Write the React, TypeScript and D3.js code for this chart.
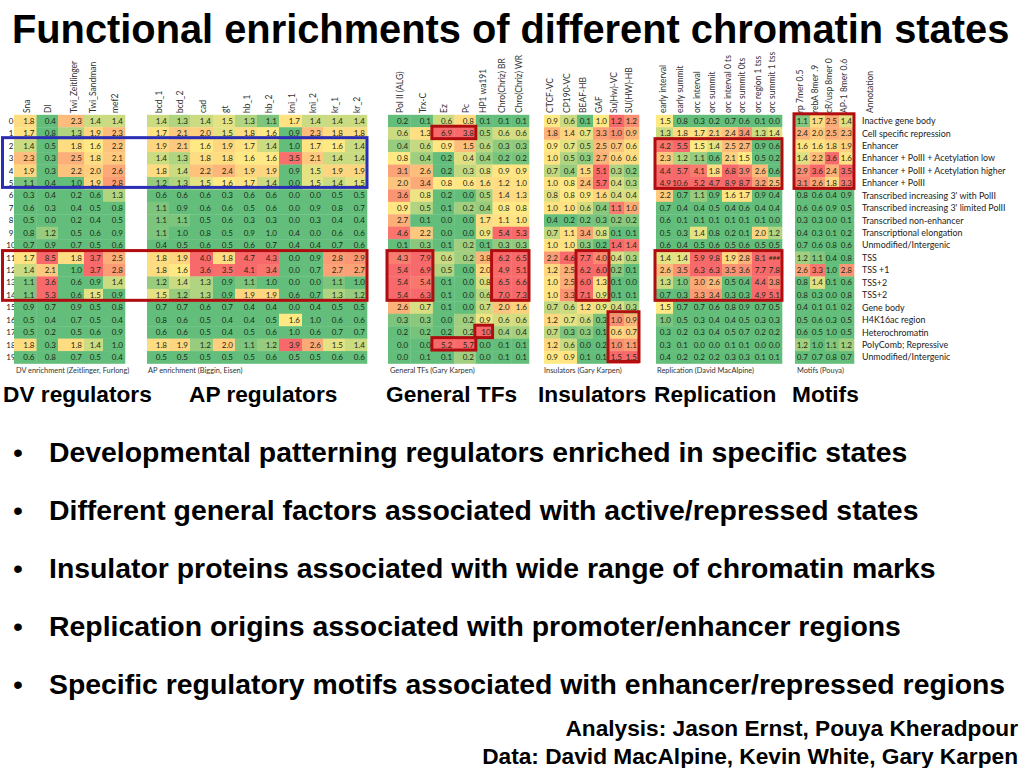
import React from 'react';
import * as d3 from 'd3';

const width = 1024;
const height = 768;

const rowIds = d3.range(20).map(String);

const annotations = [
  'Inactive gene body',
  'Cell specific repression',
  'Enhancer',
  'Enhancer + PolII + Acetylation low',
  'Enhancer + PolII + Acetylation higher',
  'Enhancer + PolII',
  "Transcribed increasing 3' with PolII",
  "Transcribed increasing 3' limited PolII",
  'Transcribed non-enhancer',
  'Transcriptional elongation',
  'Unmodified/Intergenic',
  'TSS',
  'TSS +1',
  'TSS+2',
  'TSS+2',
  'Gene body',
  'H4K16ac region',
  'Heterochromatin',
  'PolyComb; Repressive',
  'Unmodified/Intergenic',
];

const dvCols = ['Sna', 'Dl', 'Twi_Zeitlinger', 'Twi_Sandman', 'mef2'];
const dvValues = [
  [1.8, 0.4, 2.3, 1.4, 1.4],
  [1.7, 0.8, 1.3, 1.9, 2.3],
  [1.4, 0.5, 1.8, 1.6, 2.2],
  [2.3, 0.3, 2.5, 1.8, 2.1],
  [1.9, 0.3, 2.2, 2.0, 2.6],
  [1.1, 0.4, 1.0, 1.9, 2.8],
  [0.3, 0.4, 0.2, 0.6, 1.3],
  [0.6, 0.3, 0.4, 0.5, 0.8],
  [0.5, 0.0, 0.2, 0.4, 0.5],
  [0.8, 1.2, 0.5, 0.6, 0.9],
  [0.7, 0.9, 0.7, 0.5, 0.6],
  [1.7, 8.5, 1.8, 3.7, 2.5],
  [1.4, 2.1, 1.0, 3.7, 2.8],
  [1.1, 3.6, 0.6, 0.9, 1.4],
  [1.1, 5.3, 0.6, 1.5, 0.9],
  [0.9, 0.7, 0.9, 0.5, 0.8],
  [0.5, 0.4, 0.7, 0.5, 0.4],
  [0.5, 0.2, 0.5, 0.6, 0.9],
  [1.8, 0.3, 1.8, 1.4, 1.0],
  [0.6, 0.8, 0.7, 0.5, 0.4],
];

const apCols = ['bcd_1', 'bcd_2', 'cad', 'gt', 'hb_1', 'hb_2', 'kni_1', 'kni_2', 'kr_1', 'kr_2'];
const apValues = [
  [1.4, 1.3, 1.4, 1.5, 1.3, 1.1, 1.7, 1.4, 1.4, 1.4],
  [1.7, 2.1, 2.0, 1.5, 1.8, 1.6, 0.9, 2.3, 1.8, 1.8],
  [1.9, 2.1, 1.6, 1.9, 1.7, 1.4, 1.0, 1.7, 1.6, 1.4],
  [1.4, 1.3, 1.8, 1.8, 1.6, 1.6, 3.5, 2.1, 1.4, 1.4],
  [1.8, 1.4, 2.2, 2.4, 1.9, 1.9, 0.9, 1.5, 1.9, 1.9],
  [1.2, 1.3, 1.5, 1.6, 1.7, 1.4, 0.0, 1.5, 1.4, 1.5],
  [0.6, 0.6, 0.6, 0.3, 0.6, 0.6, 0.0, 0.0, 0.5, 0.5],
  [1.1, 0.9, 0.6, 0.6, 0.5, 0.6, 0.0, 0.9, 0.8, 0.7],
  [1.1, 1.1, 0.5, 0.6, 0.3, 0.3, 0.0, 0.3, 0.4, 0.4],
  [1.1, 1.0, 0.8, 0.5, 0.9, 1.0, 0.4, 0.0, 0.6, 0.6],
  [0.4, 0.5, 0.6, 0.5, 0.6, 0.7, 0.4, 0.4, 0.7, 0.6],
  [1.8, 1.9, 4.0, 1.8, 4.7, 4.3, 0.0, 0.9, 2.8, 2.9],
  [1.8, 1.6, 3.6, 3.5, 4.1, 3.4, 0.0, 0.7, 2.7, 2.7],
  [1.2, 1.4, 1.3, 0.9, 1.1, 1.0, 0.0, 0.0, 1.1, 1.0],
  [1.5, 1.2, 1.3, 0.9, 1.9, 1.9, 0.6, 0.7, 1.3, 1.2],
  [0.7, 0.7, 0.6, 0.7, 0.4, 0.4, 0.0, 0.4, 0.5, 0.5],
  [0.8, 0.6, 0.5, 0.4, 0.4, 0.5, 1.6, 1.0, 0.6, 0.6],
  [0.6, 0.6, 0.5, 0.4, 0.5, 0.6, 1.0, 0.6, 0.7, 0.7],
  [1.8, 1.9, 1.2, 2.0, 1.1, 1.2, 3.9, 2.6, 1.5, 1.4],
  [0.5, 0.5, 0.5, 0.5, 0.5, 0.6, 0.5, 0.5, 0.6, 0.6],
];

const tfCols = ['Pol II (ALG)', 'Trx-C', 'Ez', 'Pc', 'HP1 wa191', 'Chro(Chriz) BR', 'Chro(Chriz) WR'];
const tfValues = [
  [0.2, 0.1, 0.6, 0.8, 0.1, 0.1, 0.1],
  [0.6, 1.3, 6.9, 3.8, 0.5, 0.6, 0.6],
  [0.4, 0.6, 0.9, 1.5, 0.6, 0.3, 0.3],
  [0.8, 0.4, 0.2, 0.4, 0.4, 0.2, 0.2],
  [3.1, 2.6, 0.2, 0.3, 0.8, 0.9, 0.9],
  [2.0, 3.4, 0.8, 0.6, 1.6, 1.2, 1.0],
  [3.6, 0.8, 0.2, 0.0, 0.5, 1.4, 1.3],
  [0.9, 0.5, 0.1, 0.2, 0.4, 0.8, 0.8],
  [2.7, 0.1, 0.0, 0.0, 1.7, 1.1, 1.0],
  [4.6, 2.2, 0.0, 0.0, 0.9, 5.4, 5.3],
  [0.1, 0.3, 0.1, 0.2, 0.1, 0.3, 0.3],
  [4.3, 7.9, 0.6, 0.2, 3.8, 6.2, 6.5],
  [5.4, 6.9, 0.5, 0.0, 2.0, 4.9, 5.1],
  [5.4, 5.4, 0.1, 0.0, 0.8, 6.5, 6.6],
  [5.4, 6.3, 0.1, 0.0, 0.6, 7.0, 7.3],
  [2.6, 0.7, 0.1, 0.0, 0.7, 2.0, 1.6],
  [0.3, 0.3, 0.0, 0.2, 0.9, 0.6, 0.6],
  [0.2, 0.2, 0.2, 0.2, 10, 0.4, 0.4],
  [0.0, 0.0, 5.2, 5.7, 0.0, 0.1, 0.1],
  [0.0, 0.1, 0.1, 0.2, 0.0, 0.1, 0.1],
];

const insCols = ['CTCF-VC', 'CP190-VC', 'BEAF-HB', 'GAF', 'Su(Hw)-VC', 'SU(HW)-HB'];
const insValues = [
  [0.9, 0.6, 0.1, 1.0, 1.2, 1.2],
  [1.8, 1.4, 0.7, 3.3, 1.0, 0.9],
  [0.9, 0.7, 0.5, 2.5, 0.7, 0.6],
  [1.0, 0.5, 0.3, 2.7, 0.6, 0.6],
  [0.7, 0.4, 1.5, 5.1, 0.3, 0.2],
  [1.0, 0.8, 2.4, 5.7, 0.4, 0.3],
  [0.8, 0.8, 0.9, 1.6, 0.4, 0.4],
  [1.0, 1.0, 0.6, 0.4, 1.1, 1.0],
  [0.4, 0.2, 0.2, 0.3, 0.2, 0.2],
  [0.7, 1.1, 3.4, 0.8, 0.1, 0.1],
  [1.0, 1.0, 0.3, 0.2, 1.4, 1.4],
  [2.2, 4.6, 7.7, 4.0, 0.4, 0.3],
  [1.2, 2.5, 6.2, 6.0, 0.2, 0.1],
  [1.0, 2.5, 6.0, 1.3, 0.1, 0.0],
  [1.0, 3.3, 7.1, 0.9, 0.1, 0.1],
  [0.7, 0.6, 1.2, 0.9, 0.4, 0.3],
  [1.2, 0.7, 0.6, 0.3, 1.0, 0.9],
  [0.7, 0.3, 0.3, 0.1, 0.6, 0.7],
  [1.2, 0.6, 0.0, 0.2, 1.0, 1.1],
  [0.9, 0.9, 0.1, 0.1, 1.5, 1.5],
];

const repCols = ['early interval', 'early summit', 'orc interval', 'orc summit', 'orc interval 0 ts', 'orc summit 0ts', 'orc region 1 tss', 'orc summit 1 tss'];
const repValues = [
  [1.5, 0.8, 0.3, 0.2, 0.7, 0.6, 0.1, 0.0],
  [1.3, 1.8, 1.7, 2.1, 2.4, 3.4, 1.3, 1.4],
  [4.2, 5.5, 1.5, 1.4, 2.5, 2.7, 0.9, 0.6],
  [2.3, 1.2, 1.1, 0.6, 2.1, 1.5, 0.5, 0.2],
  [4.4, 5.7, 4.1, 1.8, 6.8, 3.9, 2.6, 0.6],
  [4.9, 10.6, 5.2, 4.7, 8.9, 8.7, 3.2, 2.5],
  [2.2, 0.7, 1.1, 0.9, 1.6, 1.7, 0.9, 0.4],
  [0.7, 0.4, 0.4, 0.5, 0.4, 0.6, 0.4, 0.4],
  [0.6, 0.1, 0.1, 0.1, 0.1, 0.1, 0.1, 0.0],
  [0.5, 0.3, 1.4, 0.8, 0.2, 0.1, 2.0, 1.2],
  [0.6, 0.4, 0.5, 0.6, 0.5, 0.6, 0.5, 0.5],
  [1.4, 1.4, 5.9, 9.8, 1.9, 2.8, 8.1, 12],
  [2.6, 3.5, 6.3, 6.3, 3.5, 3.6, 7.7, 7.8],
  [1.3, 1.0, 3.0, 2.6, 0.5, 0.4, 4.4, 3.8],
  [0.7, 0.3, 3.3, 3.4, 0.3, 0.3, 4.9, 5.1],
  [1.5, 0.7, 0.7, 0.6, 0.8, 0.9, 0.7, 0.5],
  [1.0, 0.5, 0.3, 0.4, 0.4, 0.5, 0.3, 0.3],
  [0.3, 0.2, 0.3, 0.4, 0.5, 0.7, 0.2, 0.2],
  [0.3, 0.1, 0.0, 0.0, 0.1, 0.1, 0.0, 0.0],
  [0.4, 0.2, 0.2, 0.2, 0.3, 0.3, 0.1, 0.1],
];

const motifCols = ['rp 7mer 0.5', 'rebA 8mer .9', 'cR/usp 8mer 0', 'AP-1 8mer 0.6'];
const motifValues = [
  [1.1, 1.7, 2.5, 1.4],
  [2.4, 2.0, 2.5, 2.3],
  [1.6, 1.6, 1.8, 1.9],
  [1.4, 2.2, 3.6, 1.6],
  [2.9, 3.6, 2.4, 3.5],
  [3.1, 2.6, 1.8, 3.3],
  [0.8, 0.6, 0.4, 0.9],
  [0.6, 0.6, 0.9, 0.5],
  [0.3, 0.3, 0.0, 0.1],
  [0.4, 0.3, 0.1, 0.2],
  [0.7, 0.6, 0.8, 0.6],
  [1.2, 1.1, 0.4, 0.8],
  [2.6, 3.3, 1.0, 2.8],
  [0.8, 1.4, 0.1, 0.6],
  [0.8, 0.3, 0.0, 0.8],
  [0.4, 0.1, 0.1, 0.2],
  [0.5, 0.6, 0.3, 0.5],
  [0.6, 0.5, 1.0, 0.5],
  [1.2, 1.0, 1.1, 1.2],
  [0.7, 0.7, 0.8, 0.7],
];

const bullets = [
  'Developmental patterning regulators enriched in specific states',
  'Different general factors associated with active/repressed states',
  'Insulator proteins associated with wide range of chromatin marks',
  'Replication origins associated with promoter/enhancer regions',
  'Specific regulatory motifs associated with enhancer/repressed regions',
];

// x range, column widths and colour stops (green, yellow, red) for each block
const groups = [
  {
    id: 'dv', cols: dvCols, values: dvValues, x0: 14, x1: 125,
    weights: [22.5, 21.5, 26, 19, 22],
    stops: [[1, 1.6, 3.6]],
    source: 'DV enrichment (Zeitlinger, Furlong)', sourceX: 16,
    label: 'DV regulators', labelX: 3,
  },
  {
    id: 'ap', cols: apCols, values: apValues, x0: 147, x1: 367,
    weights: [22, 21, 23, 22, 22, 22, 23, 21, 22, 22],
    stops: [[1, 1.6, 3.6]],
    source: 'AP enrichment (Biggin, Eisen)', sourceX: 148,
    label: 'AP regulators', labelX: 189,
  },
  {
    id: 'tf', cols: tfCols, values: tfValues, x0: 388, x1: 529,
    weights: [22.3, 22.7, 21.3, 21.7, 16.8, 19, 17.5],
    stops: [[0.2, 0.8, 5], [0.1, 0.9, 6], [0.2, 0.8, 5], [0, 0.5, 3.5], [0.1, 1, 8], [0.1, 0.8, 5], [0.1, 0.8, 5]],
    source: 'General TFs (Gary Karpen)', sourceX: 390,
    label: 'General TFs', labelX: 386,
  },
  {
    id: 'ins', cols: insCols, values: insValues, x0: 544, x1: 639,
    weights: [16, 17, 16, 16, 15, 15],
    stops: [[0.4, 0.9, 3], [0.2, 0.8, 4.5], [0.1, 0.8, 5.5], [0.2, 1, 5], [0.1, 0.5, 1.2], [0.1, 0.5, 1.5]],
    source: 'Insulators (Gary Karpen)', sourceX: 544,
    label: 'Insulators', labelX: 538,
  },
  {
    id: 'rep', cols: repCols, values: repValues, x0: 656, x1: 782,
    weights: [17, 17, 17, 15, 16, 14, 16, 14],
    stops: [[0.9, 1.5, 4.5]],
    source: 'Replication (David MacAlpine)', sourceX: 657,
    label: 'Replication', labelX: 654,
  },
  {
    id: 'motif', cols: motifCols, values: motifValues, x0: 795, x1: 854,
    weights: [15, 15, 14, 15],
    stops: [[1, 1.5, 3.5]],
    source: 'Motifs (Pouya)', sourceX: 797,
    label: 'Motifs', labelX: 792,
  },
];

const blue = '#2b2db4';
const red = '#b00d10';

// highlighted blocks, given as first/last column and first/last row
const boxes = [
  { from: ['dv', 0], to: ['ap', 9], rows: [2, 5], color: blue, dy: -2, rowLabels: true },
  { from: ['dv', 0], to: ['ap', 9], rows: [11, 14], color: red, dy: -1, rowLabels: true },
  { from: ['tf', 2], to: ['tf', 3], rows: [1, 1], color: red, dy: -1 },
  { from: ['tf', 0], to: ['tf', 1], rows: [11, 14], color: red, dy: -1 },
  { from: ['tf', 5], to: ['tf', 6], rows: [11, 14], color: red, dy: -1 },
  { from: ['tf', 4], to: ['tf', 4], rows: [17, 17], color: red, dy: -1 },
  { from: ['tf', 2], to: ['tf', 3], rows: [18, 18], color: red, dy: -1 },
  { from: ['ins', 2], to: ['ins', 3], rows: [11, 14], color: red, dy: -1 },
  { from: ['ins', 4], to: ['ins', 5], rows: [16, 19], color: red, dy: -2 },
  { from: ['rep', 0], to: ['rep', 7], rows: [2, 5], color: red, dy: -1 },
  { from: ['rep', 0], to: ['rep', 7], rows: [11, 14], color: red, dy: -1 },
  { from: ['motif', 0], to: ['motif', 3], rows: [0, 5], color: red, dy: -1 },
];

const y = d3.scaleBand<string>().domain(rowIds).range([114.8, 363.5]);

const cellFont = 'Lato, sans-serif';
const slideFont = '"Liberation Sans", Arial, sans-serif';

// left edges of the columns of a block, last entry is the right edge
function columnEdges(g: (typeof groups)[number]) {
  const cum = [0, ...d3.cumsum(g.weights)];
  const sx = d3.scaleLinear().domain([0, cum[cum.length - 1]]).range([g.x0, g.x1]);
  return cum.map((c) => sx(c));
}

const edgesById = new Map(groups.map((g) => [g.id, columnEdges(g)]));

function fmt(v: number) {
  if (v >= 11) return '###';
  return v >= 10 && Number.isInteger(v) ? String(v) : v.toFixed(1);
}

function Block({ g }: { g: (typeof groups)[number] }) {
  const edges = edgesById.get(g.id)!;
  const colors = g.cols.map((_, i) => {
    const s = g.stops[g.stops.length > 1 ? i : 0];
    return d3.scaleLinear<string>().domain(s).range(['#63be7b', '#ffe984', '#f8696b']).clamp(true);
  });
  return (
    <g>
      {g.cols.map((c, i) => (
        <text
          key={c}
          transform={`translate(${edges[i + 1] - 7},113) rotate(-90)`}
          fontFamily={cellFont}
          fontSize={8.5}
          fill="#333"
        >
          {c}
        </text>
      ))}
      {g.values.map((row, r) =>
        row.map((v, i) => (
          <g key={i + '-' + r}>
            <rect
              x={edges[i]}
              y={y(String(r))}
              width={edges[i + 1] - edges[i] + 0.3}
              height={y.bandwidth() + 0.3}
              fill={colors[i](v)}
            />
            <text
              x={edges[i + 1] - 2}
              y={y(String(r))! + y.bandwidth() / 2}
              dy="0.35em"
              textAnchor="end"
              fontFamily={cellFont}
              fontSize={v >= 11 ? 6.5 : 8}
              fill="#1c2a14"
            >
              {fmt(v)}
            </text>
          </g>
        ))
      )}
      <text x={g.sourceX} y={372.5} fontFamily={cellFont} fontSize={7.4} fill="#333">
        {g.source}
      </text>
      <text x={g.labelX} y={401.5} fontFamily={slideFont} fontWeight="bold" fontSize={22.7} fill="#000">
        {g.label}
      </text>
    </g>
  );
}

export default function App() {
  return (
    <svg
      width={width}
      height={height}
      viewBox={`0 0 ${width} ${height}`}
      style={{ position: 'absolute', left: 0, top: 0, background: '#fff' }}
    >
      <text x={12} y={43} fontFamily={slideFont} fontWeight="bold" fontSize={39.8} fill="#000">
        Functional enrichments of different chromatin states
      </text>

      {rowIds.map((id) => (
        <text
          key={id}
          x={11}
          y={y(id)! + y.bandwidth() / 2}
          dy="0.35em"
          textAnchor="middle"
          fontFamily={cellFont}
          fontSize={8}
          fill="#222"
        >
          {id}
        </text>
      ))}

      {groups.map((g) => (
        <Block key={g.id} g={g} />
      ))}

      <text transform="translate(873,113) rotate(-90)" fontFamily={cellFont} fontSize={8.5} fill="#333">
        Annotation
      </text>
      {annotations.map((a, i) => (
        <text
          key={i}
          x={862}
          y={y(String(i))! + y.bandwidth() / 2}
          dy="0.35em"
          fontFamily={cellFont}
          fontSize={8.9}
          fill="#222"
        >
          {a}
        </text>
      ))}

      {boxes.map((b, i) => {
        const left = b.rowLabels ? 2.5 : edgesById.get(b.from[0] as string)![b.from[1] as number] - 1;
        const right = edgesById.get(b.to[0] as string)![(b.to[1] as number) + 1];
        const top = y(String(b.rows[0]))! + b.dy;
        const bottom = y(String(b.rows[1]))! + y.bandwidth() + b.dy;
        return (
          <rect
            key={i}
            x={left}
            y={top}
            width={right - left}
            height={bottom - top}
            fill="none"
            stroke={b.color}
            strokeWidth={3}
          />
        );
      })}

      {bullets.map((t, i) => {
        const by = 462 + i * 58;
        return (
          <g key={t} fontFamily={slideFont} fontWeight="bold" fontSize={28.4} fill="#000">
            <text x={13} y={by} fontWeight="normal">•</text>
            <text x={49} y={by}>{t}</text>
          </g>
        );
      })}

      <g fontFamily={slideFont} fontWeight="bold" fontSize={22.7} fill="#000" textAnchor="end">
        <text x={1018} y={735.5}>Analysis: Jason Ernst, Pouya Kheradpour</text>
        <text x={1018} y={763.5}>Data: David MacAlpine, Kevin White, Gary Karpen</text>
      </g>
    </svg>
  );
}
